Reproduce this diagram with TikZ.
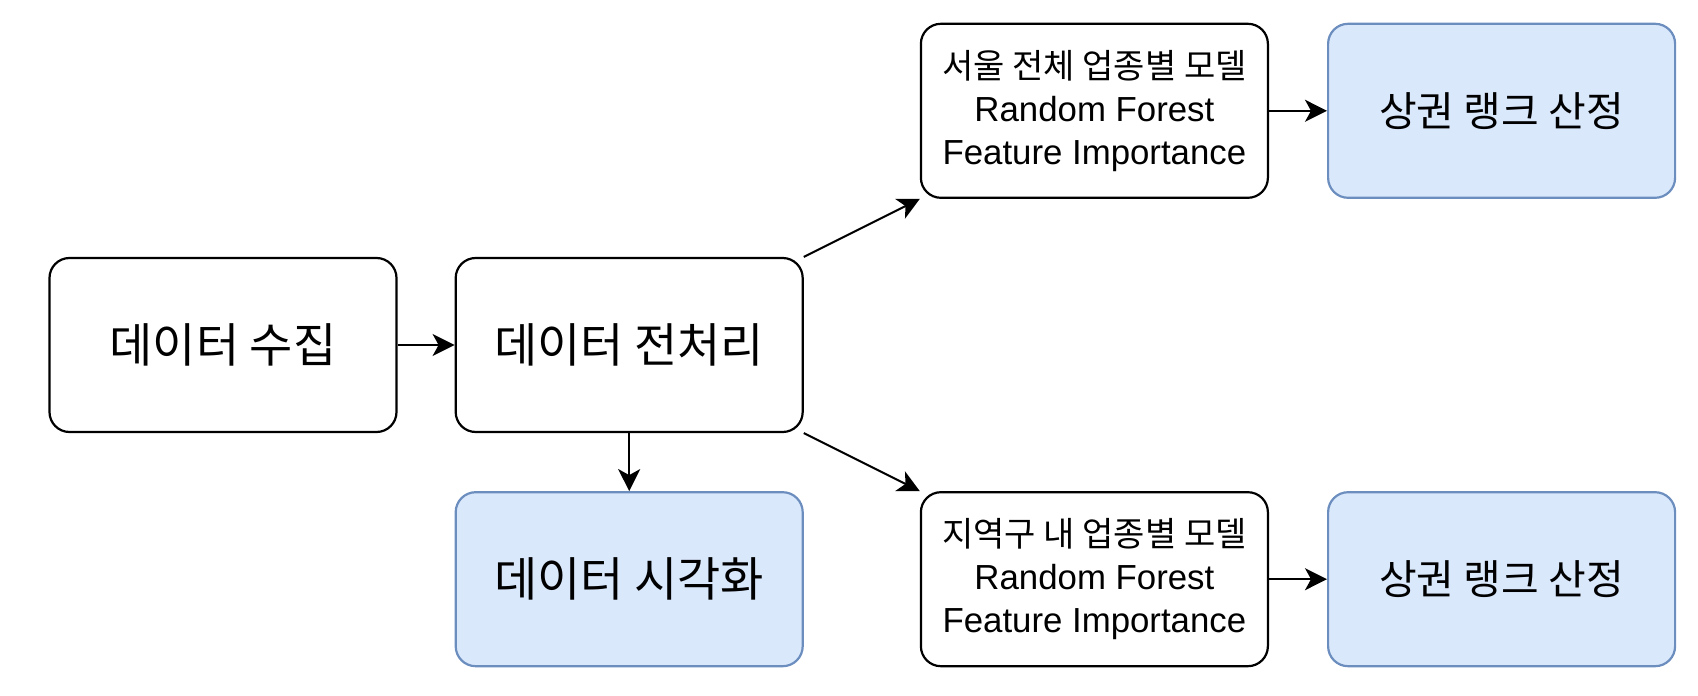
\documentclass[tikz,border=0pt]{standalone}
\usepackage{fontspec}
\setmainfont{Liberation Sans}
\newfontfamily\krfont{Noto Sans CJK KR}
\usetikzlibrary{arrows.meta,positioning}

\definecolor{rankfill}{HTML}{DAE8FC}
\definecolor{rankline}{HTML}{6C8EBF}

\begin{document}
\begin{tikzpicture}[
  node distance=29pt and 28.5pt,
  box/.style={draw,line width=1.1pt,rounded corners=10pt,align=center,minimum width=173.5pt,minimum height=87pt,inner sep=0pt},
  bigtext/.style={font=\krfont\fontsize{23.5}{28}\selectfont},
  ranktext/.style={font=\krfont\fontsize{20.5}{24}\selectfont},
  modeltext/.style={font=\fontsize{17.4}{21.5}\selectfont},
  blue/.style={fill=rankfill,draw=rankline},
  arrow/.style={-{Stealth[length=11pt,width=11pt,inset=3pt]},line width=1pt}
]
\useasboundingbox (-111.5pt,172.5pt) rectangle (737.5pt,-175.5pt);
\node[box,bigtext] (collect) at (0,0) {데이터 수집};
\node[box,bigtext,right=of collect] (prep) {데이터 전처리};
\node[box,bigtext,blue,below=of prep] (vis) {데이터 시각화};
\node[box,modeltext,above right=29pt and 58pt of prep] (seoul) {{\krfont\fontsize{17}{21.5}\selectfont 서울 전체 업종별 모델}\\Random Forest\\Feature Importance};
\node[box,modeltext,below right=29pt and 58pt of prep] (gu) {{\krfont\fontsize{17}{21.5}\selectfont 지역구 내 업종별 모델}\\Random Forest\\Feature Importance};
\node[box,ranktext,blue,right=29pt of seoul] (rankseoul) {상권 랭크 산정};
\node[box,ranktext,blue,right=29pt of gu] (rankgu) {상권 랭크 산정};
\draw[arrow] (collect)--(prep);
\draw[arrow] (prep)--(vis);
\draw[arrow] (prep.north east)--(seoul.south west);
\draw[arrow] (prep.south east)--(gu.north west);
\draw[arrow] (seoul)--(rankseoul);
\draw[arrow] (gu)--(rankgu);
\end{tikzpicture}
\end{document}
